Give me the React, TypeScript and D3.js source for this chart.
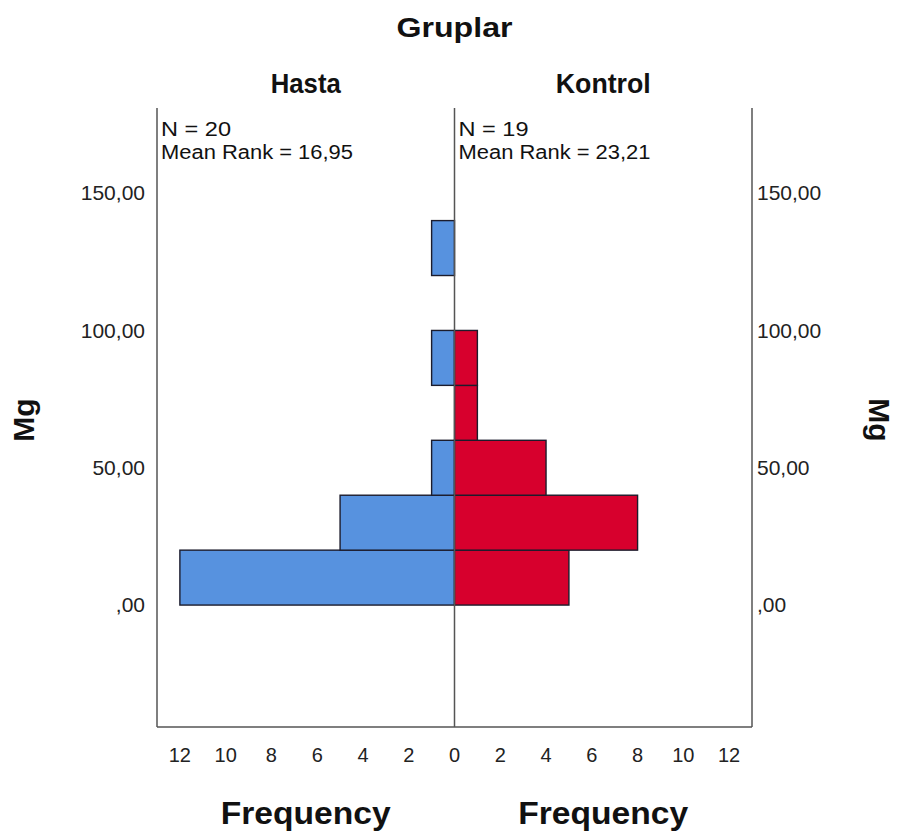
import { useRef, useEffect } from 'react'
import * as d3 from 'd3'

// histogram bins (Mg), width 20
const binStarts = [0, 20, 40, 60, 80, 100, 120]
const binWidth = 20
const hastaCounts = [12, 5, 1, 0, 1, 0, 1]
const kontrolCounts = [5, 8, 4, 1, 1, 0, 0]
const yTicks = [0, 50, 100, 150]
const freqTicks = [0, 2, 4, 6, 8, 10, 12]
const groups = ['Hasta', 'Kontrol']
const groupStats = [
  ['N = 20', 'Mean Rank = 16,95'],
  ['N = 19', 'Mean Rank = 23,21'],
]

const blue = '#5792df'
const red = '#d7002d'
const edge = '#1c1c2c'
const axisColor = '#555'
const font = 'Liberation Sans, Arial, sans-serif'

function drawChart(target: SVGSVGElement) {
  const svg = d3.select(target)
  svg.selectAll('*').remove()

  const left = 157
  const right = 752
  const top = 108
  const bottom = 727
  const center = 454.5

  const x = d3.scaleLinear().domain([-13, 13]).range([left, right])
  const y = d3.scaleLinear().domain([-44.4, 181]).range([bottom, top])

  const fmt = (v: number) => (v === 0 ? ',00' : d3.format('.2f')(v).replace('.', ','))

  // bars
  const bars = svg.append('g')
  const hasta = binStarts.map((b, i) => ({ b, c: hastaCounts[i] })).filter((d) => d.c > 0)
  const kontrol = binStarts.map((b, i) => ({ b, c: kontrolCounts[i] })).filter((d) => d.c > 0)

  bars
    .selectAll('.hasta')
    .data(hasta)
    .enter()
    .append('rect')
    .attr('x', (d) => x(-d.c))
    .attr('y', (d) => y(d.b + binWidth))
    .attr('width', (d) => x(0) - x(-d.c))
    .attr('height', (d) => y(d.b) - y(d.b + binWidth))
    .attr('fill', blue)
    .attr('stroke', edge)
    .attr('stroke-width', 1.4)

  bars
    .selectAll('.kontrol')
    .data(kontrol)
    .enter()
    .append('rect')
    .attr('x', x(0))
    .attr('y', (d) => y(d.b + binWidth))
    .attr('width', (d) => x(d.c) - x(0))
    .attr('height', (d) => y(d.b) - y(d.b + binWidth))
    .attr('fill', red)
    .attr('stroke', edge)
    .attr('stroke-width', 1.4)

  // frame
  const frame = svg.append('g').attr('stroke', axisColor).attr('stroke-width', 1.5).attr('fill', 'none')
  frame.append('line').attr('x1', left).attr('x2', left).attr('y1', top).attr('y2', bottom)
  frame.append('line').attr('x1', right).attr('x2', right).attr('y1', top).attr('y2', bottom)
  frame.append('line').attr('x1', left).attr('x2', right).attr('y1', bottom).attr('y2', bottom)
  frame.append('line').attr('x1', x(0)).attr('x2', x(0)).attr('y1', top).attr('y2', bottom)

  // y tick labels, both sides
  const yl = svg.append('g').attr('font-family', font).attr('font-size', 21).attr('fill', '#222')
  yl.selectAll('.yl')
    .data(yTicks)
    .enter()
    .append('text')
    .attr('x', 145)
    .attr('y', (d) => y(d))
    .attr('dy', '0.35em')
    .attr('text-anchor', 'end')
    .text(fmt)
  yl.selectAll('.yr')
    .data(yTicks)
    .enter()
    .append('text')
    .attr('x', 757)
    .attr('y', (d) => y(d))
    .attr('dy', '0.35em')
    .text(fmt)

  // frequency tick labels, mirrored
  const xl = svg.append('g').attr('font-family', font).attr('font-size', 20).attr('fill', '#222').attr('text-anchor', 'middle')
  xl.selectAll('.xl')
    .data(freqTicks.filter((d) => d > 0))
    .enter()
    .append('text')
    .attr('x', (d) => x(-d))
    .attr('y', 755)
    .attr('dy', '0.35em')
    .text((d) => d)
  xl.selectAll('.xr')
    .data(freqTicks)
    .enter()
    .append('text')
    .attr('x', (d) => x(d))
    .attr('y', 755)
    .attr('dy', '0.35em')
    .text((d) => d)

  // titles
  svg
    .append('text')
    .attr('x', center)
    .attr('y', 27)
    .attr('dy', '0.35em')
    .attr('text-anchor', 'middle')
    .attr('font-family', font)
    .attr('font-weight', 'bold')
    .attr('font-size', 28)
    .attr('fill', '#111')
    .attr('textLength', 116)
    .attr('lengthAdjust', 'spacingAndGlyphs')
    .text('Gruplar')

  const panelCenters = [(left + x(0)) / 2, (x(0) + right) / 2]
  groups.forEach((g, i) => {
    svg
      .append('text')
      .attr('x', panelCenters[i])
      .attr('y', 83)
      .attr('dy', '0.35em')
      .attr('text-anchor', 'middle')
      .attr('font-family', font)
      .attr('font-weight', 'bold')
      .attr('font-size', 28)
      .attr('fill', '#111')
      .attr('textLength', i === 0 ? 70 : 95)
      .attr('lengthAdjust', 'spacingAndGlyphs')
      .text(g)

    const tx = i === 0 ? left + 4 : x(0) + 4
    groupStats[i].forEach((s, j) => {
      svg
        .append('text')
        .attr('x', tx)
        .attr('y', 129 + j * 23)
        .attr('dy', '0.35em')
        .attr('font-family', font)
        .attr('font-size', 20)
        .attr('fill', '#111')
        .attr('textLength', j === 0 ? 70 : 192)
        .attr('lengthAdjust', 'spacingAndGlyphs')
        .text(s)
    })

    svg
      .append('text')
      .attr('x', panelCenters[i])
      .attr('y', 813)
      .attr('dy', '0.35em')
      .attr('text-anchor', 'middle')
      .attr('font-family', font)
      .attr('font-weight', 'bold')
      .attr('font-size', 31)
      .attr('fill', '#111')
      .attr('textLength', 170)
      .attr('lengthAdjust', 'spacingAndGlyphs')
      .text('Frequency')
  })

  // Mg axis titles
  svg
    .append('text')
    .attr('transform', `translate(23, 420) rotate(-90)`)
    .attr('text-anchor', 'middle')
    .attr('dy', '0.35em')
    .attr('font-family', font)
    .attr('font-weight', 'bold')
    .attr('font-size', 30)
    .attr('fill', '#111')
    .text('Mg')
  svg
    .append('text')
    .attr('transform', `translate(879, 420) rotate(90)`)
    .attr('text-anchor', 'middle')
    .attr('dy', '0.35em')
    .attr('font-family', font)
    .attr('font-weight', 'bold')
    .attr('font-size', 30)
    .attr('fill', '#111')
    .text('Mg')
}

export default function App() {
  const ref = useRef<SVGSVGElement>(null)

  useEffect(() => {
    if (ref.current) drawChart(ref.current)
  }, [])

  return <svg ref={ref} width={898} height={836} style={{ display: 'block', position: 'absolute', left: 0, top: 0, background: '#fff' }} />
}
